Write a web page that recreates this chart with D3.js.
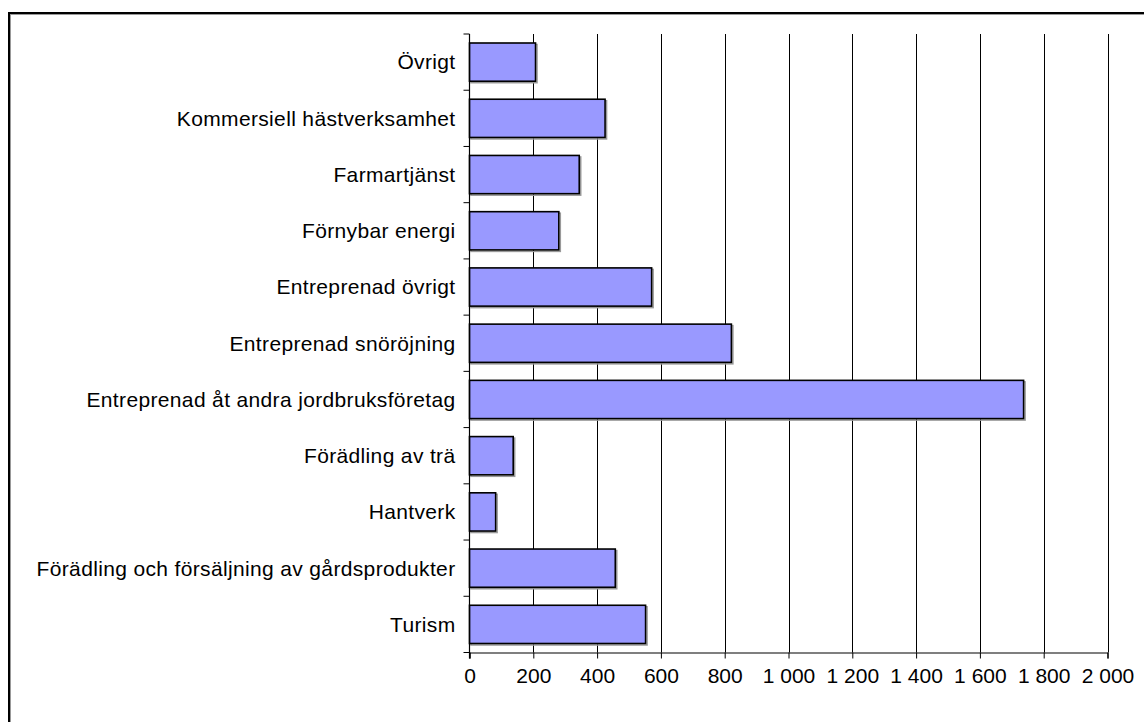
<!DOCTYPE html>
<html>
<head>
<meta charset="utf-8">
<script src="https://cdn.jsdelivr.net/npm/d3@7"></script>
<style>
  html, body { margin: 0; padding: 0; background: #fff; }
  svg { display: block; }
  text { font-family: "Liberation Sans", Arial, sans-serif; fill: #000; }
</style>
</head>
<body>
<svg id="chart" width="1144" height="722"></svg>
<script>
// Categories top to bottom
const categories = [
  "Övrigt",
  "Kommersiell hästverksamhet",
  "Farmartjänst",
  "Förnybar energi",
  "Entreprenad övrigt",
  "Entreprenad snöröjning",
  "Entreprenad åt andra jordbruksföretag",
  "Förädling av trä",
  "Hantverk",
  "Förädling och försäljning av gårdsprodukter",
  "Turism"
];
const values = [207, 425, 344, 280, 571, 821, 1737, 137, 82, 457, 552];
const xTicks = [0, 200, 400, 600, 800, 1000, 1200, 1400, 1600, 1800, 2000];
const xMax = 2000;

const svg = d3.select("#chart");
const W = 1144, H = 722;
const plot = { left: 469.5, right: 1107.5, top: 34, bottom: 652.5 };
const fontSize = 21;

// outer frame
svg.append("rect").attr("x", 10.5).attr("y", 14.5).attr("width", W).attr("height", H)
  .attr("fill", "none").attr("stroke", "#999").attr("stroke-width", 1);
svg.append("rect").attr("x", 9).attr("y", 13).attr("width", W).attr("height", H)
  .attr("fill", "none").attr("stroke", "#000").attr("stroke-width", 2);

const x = d3.scaleLinear().domain([0, xMax]).range([plot.left, plot.right]);
const y = d3.scaleBand().domain(categories).range([plot.top, plot.bottom])
  .paddingInner(0.32).paddingOuter(0.16);

// gridlines
svg.append("g").selectAll("line").data(xTicks.filter(d => d > 0)).join("line")
  .attr("x1", d => Math.round(x(d)) + 0.5).attr("x2", d => Math.round(x(d)) + 0.5)
  .attr("y1", plot.top).attr("y2", plot.bottom)
  .attr("stroke", "#000").attr("stroke-width", 1);

// bar shadows
svg.append("g").selectAll("rect").data(categories).join("rect")
  .attr("x", x(0) + 1.5)
  .attr("y", d => y(d) + 1.5)
  .attr("width", (d, i) => x(values[i]) - x(0))
  .attr("height", y.bandwidth())
  .attr("fill", "none").attr("stroke", "#999").attr("stroke-width", 1.5);

// bars
svg.append("g").selectAll("rect").data(categories).join("rect")
  .attr("x", x(0))
  .attr("y", d => y(d))
  .attr("width", (d, i) => x(values[i]) - x(0))
  .attr("height", y.bandwidth())
  .attr("fill", "#9999FF").attr("stroke", "#000").attr("stroke-width", 1.6);

// x axis
const fmt = d => d3.format(",")(d).replace(/,/g, " ");
const xAxis = d3.axisBottom(x).tickValues(xTicks).tickFormat(fmt).tickSize(6).tickPadding(10);
const gx = svg.append("g").attr("transform", `translate(0,${plot.bottom})`).call(xAxis);
gx.select(".domain").attr("stroke", "#000").attr("stroke-width", 1.2);
gx.selectAll(".tick line").attr("stroke", "#000");
gx.selectAll(".tick text").attr("font-size", fontSize)
  .attr("font-family", "'Liberation Sans', Arial, sans-serif");

// y axis line and ticks at band boundaries
const n = categories.length;
const step = y.step();
const bounds = d3.range(n + 1).map(i => plot.top + i * step);
svg.append("line").attr("x1", plot.left).attr("x2", plot.left)
  .attr("y1", plot.top).attr("y2", plot.bottom + 6)
  .attr("stroke", "#000").attr("stroke-width", 1.2);
svg.append("g").selectAll("line").data(bounds).join("line")
  .attr("x1", plot.left - 6).attr("x2", plot.left)
  .attr("y1", d => d).attr("y2", d => d)
  .attr("stroke", "#000").attr("stroke-width", 1);

// category labels
svg.append("g").selectAll("text").data(categories).join("text")
  .attr("x", plot.left - 14)
  .attr("y", d => y(d) + y.bandwidth() / 2)
  .attr("dy", "0.35em")
  .attr("text-anchor", "end")
  .attr("font-size", fontSize)
  .attr("letter-spacing", "0.35px")
  .text(d => d);
</script>
</body>
</html>
